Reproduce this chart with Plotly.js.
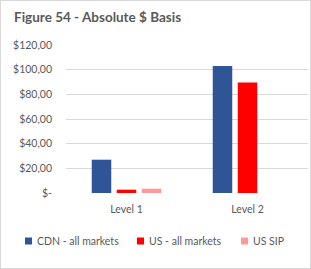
<!DOCTYPE html>
<html><head><meta charset="utf-8">
<script src="https://cdn.plot.ly/plotly-3.0.1.min.js"></script>
<style>
html,body{margin:0;padding:0;background:#fff;}
#wrap{position:relative;width:311px;height:269px;}
#chart{width:311px;height:269px;}
#border{position:absolute;left:0;top:0;width:311px;height:269px;box-sizing:border-box;border:1px solid #d9d9d9;pointer-events:none;}
</style>
</head><body>
<div id="wrap"><div id="chart"></div><div id="border"></div></div>
<script>
const categories = ["Level 1", "Level 2"];
const seriesNames = ["CDN - all markets", "US - all markets", "US SIP"];
const cdnValues = [27, 103];
const usValues = [2.7, 89.5];
const sipValues = [3.5, null];
const yTickVals = [0, 20, 40, 60, 80, 100, 120];
const yTickText = ["$-", "$20,00", "$40,00", "$60,00", "$80,00", "$100,00", "$120,00"];
const colors = ["#2F5597", "#FF0000", "#FF9999"];

const FONT = "Lato, 'Open Sans', sans-serif";
const seriesValues = [cdnValues, usValues, sipValues];
const traces = seriesValues.map((vals, i) => ({
  type: "bar", x: categories, y: vals, name: seriesNames[i],
  marker: {color: colors[i]}, hoverinfo: "none", showlegend: false
}));

// custom legend
const legendX = [25, 137, 241];
const shapes = [];
const annotations = [];
const plotL = 66, plotW = 242, plotT = 45, plotH = 148;
function px2x(p){return (p - plotL)/plotW;}
function py2y(p){return (plotT + plotH - p)/plotH;}
seriesNames.forEach((n, i) => {
  shapes.push({type:"rect", xref:"paper", yref:"paper",
    x0: px2x(legendX[i]), x1: px2x(legendX[i]+7),
    y0: py2y(244.5), y1: py2y(237.5),
    fillcolor: colors[i], line:{width:0}});
  annotations.push({xref:"paper", yref:"paper", x: px2x(legendX[i]+10), y: py2y(241),
    xanchor:"left", yanchor:"middle", text:n, showarrow:false,
    font:{family:FONT, size:10.5, color:"#595959"}});
});

const layout = {
  width: 311, height: 269,
  margin: {l: plotL, r: 311 - plotL - plotW, t: plotT, b: 269 - plotT - plotH, pad: 0},
  paper_bgcolor: "#fff", plot_bgcolor: "#fff",
  title: {text: "<b>Figure 54 - Absolute $ Basis</b>", x: 14/311, xanchor: "left",
    y: 1 - 17/269, yanchor: "middle", font: {family: FONT, size: 13.5, color: "#595959"}},
  barmode: "group", bargap: 0.38, bargroupgap: 0.22,
  xaxis: {showgrid: false, showline: false, zeroline: false, ticks: "",
    tickfont: {family: FONT, size: 10.5, color: "#595959"}, ticklabelstandoff: 8, fixedrange: true},
  yaxis: {range: [0, 120], tickvals: yTickVals, ticktext: yTickText,
    showgrid: true, gridcolor: "#D9D9D9", gridwidth: 1, zeroline: false, showline: false, ticks: "",
    tickfont: {family: FONT, size: 10.5, color: "#595959"}, ticklabelstandoff: 13, fixedrange: true},
  shapes: shapes, annotations: annotations, showlegend: false
};
Plotly.newPlot("chart", traces, layout, {displayModeBar: false, staticPlot: true});
</script>
</body></html>
